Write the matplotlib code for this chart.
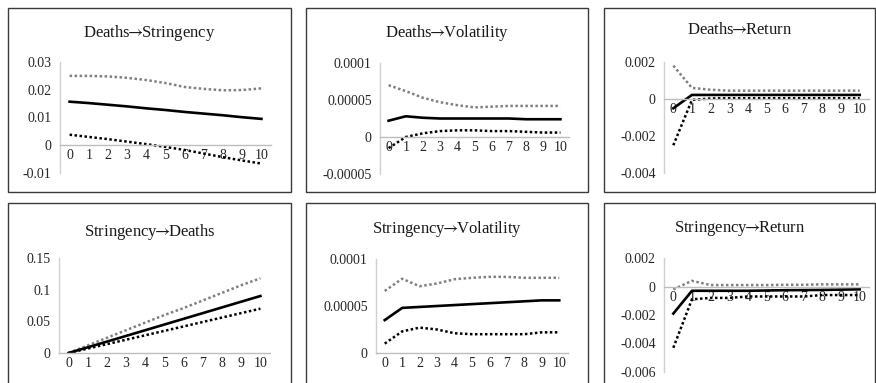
import matplotlib
matplotlib.use("Agg")
import matplotlib.pyplot as plt
from matplotlib.patches import Rectangle

plt.rcParams['font.family'] = ['Liberation Serif', 'DejaVu Serif']
plt.rcParams['mathtext.fontset'] = 'stix'

W, H = 876, 383
steps = list(range(11))
step_labels = [str(s) for s in steps]
arrow = "$\\!\\!\\rightarrow\\!\\!$"

# Deaths -> Stringency
ds_up = [0.0250, 0.0250, 0.0248, 0.0243, 0.0235, 0.0224, 0.0210, 0.0203, 0.0198, 0.0199, 0.0205]
ds_mid = [0.0157, 0.0152, 0.0146, 0.0140, 0.0133, 0.0127, 0.0120, 0.0114, 0.0108, 0.0101, 0.0095]
ds_lo = [0.0038, 0.0030, 0.0022, 0.0013, 0.0004, -0.0006, -0.0017, -0.0030, -0.0043, -0.0055, -0.0066]
ds_ticks = [-0.01, 0, 0.01, 0.02, 0.03]
ds_tlab = ["-0.01", "0", "0.01", "0.02", "0.03"]

# Deaths -> Volatility
dv_up = [7.0e-5, 6.2e-5, 5.3e-5, 4.7e-5, 4.3e-5, 4.0e-5, 4.1e-5, 4.2e-5, 4.2e-5, 4.2e-5, 4.2e-5]
dv_mid = [2.2e-5, 2.8e-5, 2.6e-5, 2.5e-5, 2.5e-5, 2.5e-5, 2.5e-5, 2.5e-5, 2.4e-5, 2.4e-5, 2.4e-5]
dv_lo = [-1.5e-5, 0.0, 0.5e-5, 0.8e-5, 0.9e-5, 0.9e-5, 0.8e-5, 0.8e-5, 0.7e-5, 0.6e-5, 0.6e-5]
dv_ticks = [-0.00005, 0, 0.00005, 0.0001]
dv_tlab = ["-0.00005", "0", "0.00005", "0.0001"]

# Deaths -> Return
dr_up = [0.0018, 0.0006, 0.0005, 0.00045, 0.00045, 0.00045, 0.00045, 0.00045, 0.00045, 0.00045, 0.00045]
dr_mid = [-0.0005, 0.00022, 0.00022, 0.00022, 0.00022, 0.00022, 0.00022, 0.00022, 0.00022, 0.00022, 0.00022]
dr_lo = [-0.0025, -0.00005, 0.00003, 0.00004, 0.00004, 0.00004, 0.00004, 0.00004, 0.00004, 0.00004, 0.00004]
dr_ticks = [-0.004, -0.002, 0, 0.002]
dr_tlab = ["-0.004", "-0.002", "0", "0.002"]

# Stringency -> Deaths
sd_up = [0.0, 0.012, 0.024, 0.036, 0.048, 0.060, 0.071, 0.083, 0.095, 0.107, 0.118]
sd_mid = [0.0, 0.009, 0.018, 0.027, 0.036, 0.045, 0.054, 0.063, 0.072, 0.081, 0.090]
sd_lo = [0.0, 0.007, 0.014, 0.021, 0.028, 0.035, 0.042, 0.049, 0.056, 0.063, 0.070]
sd_ticks = [0, 0.05, 0.1, 0.15]
sd_tlab = ["0", "0.05", "0.1", "0.15"]

# Stringency -> Volatility
sv_up = [6.6e-5, 7.9e-5, 7.1e-5, 7.4e-5, 7.85e-5, 8.0e-5, 8.1e-5, 8.1e-5, 8.0e-5, 8.0e-5, 8.0e-5]
sv_mid = [3.5e-5, 4.8e-5, 4.9e-5, 5.0e-5, 5.1e-5, 5.2e-5, 5.3e-5, 5.4e-5, 5.5e-5, 5.6e-5, 5.6e-5]
sv_lo = [1.0e-5, 2.3e-5, 2.7e-5, 2.5e-5, 2.1e-5, 2.0e-5, 2.0e-5, 2.0e-5, 2.0e-5, 2.2e-5, 2.2e-5]
sv_ticks = [0, 0.00005, 0.0001]
sv_tlab = ["0", "0.00005", "0.0001"]

# Stringency -> Return
sr_up = [-0.0002, 0.0004, 0.0001, 0.0001, 0.0001, 0.0001, 0.00012, 0.00012, 0.00015, 0.00015, 0.00015]
sr_mid = [-0.0019, -0.0003, -0.0003, -0.0003, -0.0003, -0.00028, -0.00026, -0.00025, -0.00024, -0.00022, -0.0002]
sr_lo = [-0.0043, -0.0009, -0.0008, -0.0008, -0.0007, -0.0007, -0.0007, -0.0007, -0.0006, -0.0006, -0.0006]
sr_ticks = [-0.006, -0.004, -0.002, 0, 0.002]
sr_tlab = ["-0.006", "-0.004", "-0.002", "0", "0.002"]

panels = [
    ("Deaths" + arrow + "Stringency", ds_up, ds_mid, ds_lo, ds_ticks, ds_tlab),
    ("Deaths" + arrow + "Volatility", dv_up, dv_mid, dv_lo, dv_ticks, dv_tlab),
    ("Deaths" + arrow + "Return", dr_up, dr_mid, dr_lo, dr_ticks, dr_tlab),
    ("Stringency" + arrow + "Deaths", sd_up, sd_mid, sd_lo, sd_ticks, sd_tlab),
    ("Stringency" + arrow + "Volatility", sv_up, sv_mid, sv_lo, sv_ticks, sv_tlab),
    ("Stringency" + arrow + "Return", sr_up, sr_mid, sr_lo, sr_ticks, sr_tlab),
]

# boxes (left, right, top, bottom) and plot areas in pixels from top-left
boxes = [(8, 291, 8, 192), (306, 588, 8, 192), (604, 875, 8, 192),
         (8, 291, 203, 395), (306, 588, 203, 395), (604, 875, 203, 395)]
areas = [(60, 271, 62, 173), (380, 569, 63, 174), (664, 869, 62, 173),
         (59, 270, 258, 353), (376, 568, 259, 353), (664, 869, 258, 372)]
title_y = [33, 33, 30, 232, 229, 229]

fig = plt.figure(figsize=(W / 100, H / 100), dpi=100)

for i, (title, up, mid, lo, yt, ylab) in enumerate(panels):
    bl, br, bt, bb = boxes[i]
    fig.patches.append(Rectangle((bl / W, 1 - bb / H), (br - bl) / W, (bb - bt) / H,
                                 transform=fig.transFigure, fill=False,
                                 edgecolor='#3a3a3a', linewidth=1.0, zorder=0))
    fig.text((bl + br) / 2 / W, 1 - title_y[i] / H, title, ha='center', va='center',
             fontsize=12, color='#1a1a1a')

    al, ar, at, ab = areas[i]
    ax = fig.add_axes([al / W, 1 - ab / H, (ar - al) / W, (ab - at) / H])
    ax.patch.set_alpha(0)
    ax.plot(steps, up, color='#808080', linestyle=(0, (1, 1)), linewidth=1.8)
    ax.plot(steps, lo, color='black', linestyle=(0, (1, 1)), linewidth=1.8)
    ax.plot(steps, mid, color='black', linewidth=1.9)

    ax.set_xlim(-0.5, 10.5)
    ax.set_ylim(yt[0], yt[-1])
    ax.set_yticks(yt)
    ax.set_yticklabels(ylab)
    ax.set_xticks(steps)
    ax.set_xticklabels(step_labels)

    for s in ('top', 'right'):
        ax.spines[s].set_visible(False)
    ax.spines['bottom'].set_position(('data', 0))
    ax.spines['bottom'].set_color('#bdbdbd')
    ax.spines['left'].set_color('#d0d0d0')
    ax.spines['bottom'].set_linewidth(1.0)
    ax.spines['left'].set_linewidth(1.0)
    ax.tick_params(axis='both', length=0, labelsize=10, labelcolor='#262626')
    ax.tick_params(axis='y', pad=6)
    ax.tick_params(axis='x', pad=3)

fig.savefig("out.png", dpi=100)
